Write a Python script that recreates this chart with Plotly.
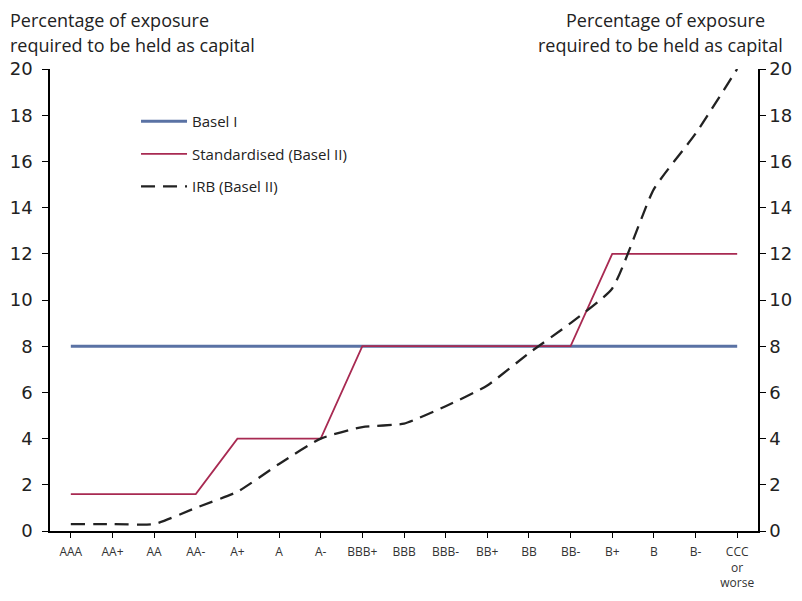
import plotly.graph_objects as go

categories = ["AAA", "AA+", "AA", "AA-", "A+", "A", "A-", "BBB+", "BBB", "BBB-",
              "BB+", "BB", "BB-", "B+", "B", "B-", "CCC<br>or<br>worse"]
basel1 = [8] * 17
standardised = [1.6, 1.6, 1.6, 1.6, 4, 4, 4, 8, 8, 8, 8, 8, 8, 12, 12, 12, 12]
irb = [0.3, 0.3, 0.3, 1.0, 1.7, 2.9, 4.0, 4.5, 4.65, 5.4, 6.3, 7.7, 9.0, 10.5, 14.8, 17.2, 20.0]
y_ticks = [0, 2, 4, 6, 8, 10, 12, 14, 16, 18, 20]
title_line1 = "Percentage of exposure"
title_line2 = "required to be held as capital"

x = list(range(len(categories)))
font_family = "Open Sans, DejaVu Sans, sans-serif"
num_font = "DejaVu Sans, sans-serif"

fig = go.Figure()
fig.add_trace(go.Scatter(x=x, y=basel1, mode="lines", name="Basel I",
                         line=dict(color="#5a72a4", width=3), legendgroup="a"))
fig.add_trace(go.Scatter(x=x, y=standardised, mode="lines", name="Standardised (Basel II)",
                         line=dict(color="#a82a52", width=1.8), legendgroup="b"))
fig.add_trace(go.Scatter(x=x, y=irb, mode="lines", name="IRB (Basel II)",
                         line=dict(color="#222222", width=2.3, dash="14px,8px",
                                   shape="spline", smoothing=0.5), legendgroup="c"))
fig.add_trace(go.Scatter(x=x, y=irb, mode="lines", yaxis="y2", showlegend=False,
                         hoverinfo="skip", line=dict(color="rgba(0,0,0,0)", width=0)))

fig.update_layout(
    width=786, height=585,
    margin=dict(l=42, r=36, t=61, b=62, autoexpand=False),
    paper_bgcolor="white", plot_bgcolor="white",
    font=dict(family=font_family, color="#222222"),
    xaxis=dict(
        tickmode="array", tickvals=x, ticktext=categories, automargin=False,
        range=[-0.5, 16.5], tickson="boundaries", ticks="outside", ticklen=5,
        tickcolor="#000", showline=True, linecolor="#000", linewidth=1.5,
        showgrid=False, zeroline=False, tickangle=0, ticklabelstandoff=4,
        tickfont=dict(size=12, color="#333333"),
    ),
    yaxis=dict(
        range=[0, 20], tickvals=y_ticks, ticks="outside", ticklen=6, automargin=False,
        tickcolor="#000", showline=True, linecolor="#000", linewidth=1.5,
        showgrid=False, zeroline=False, ticklabelstandoff=6,
        tickfont=dict(size=18, color="#222222", family=num_font),
    ),
    yaxis2=dict(
        range=[0, 20], tickvals=y_ticks, ticks="outside", ticklen=6, automargin=False,
        tickcolor="#000", showline=True, linecolor="#000", linewidth=1.5,
        overlaying="y", side="right", showgrid=False, zeroline=False,
        tickfont=dict(size=18, color="#222222", family=num_font),
    ),
    legend=dict(x=0.1215, y=0.922, xanchor="left", yanchor="top",
                font=dict(size=15, color="#222222"), bgcolor="rgba(0,0,0,0)",
                tracegroupgap=10, itemwidth=46),
    showlegend=True,
)

ann_font = dict(size=18, color="#222222")
fig.add_annotation(text=title_line1, xref="paper", yref="paper", x=0, y=1,
                   xshift=-42, yshift=49, xanchor="left", yanchor="middle",
                   showarrow=False, font=ann_font)
fig.add_annotation(text=title_line2, xref="paper", yref="paper", x=0, y=1,
                   xshift=-42, yshift=24, xanchor="left", yanchor="middle",
                   showarrow=False, font=ann_font)
fig.add_annotation(text=title_line1, xref="paper", yref="paper", x=1, y=1,
                   xshift=9, yshift=49, xanchor="right", yanchor="middle",
                   showarrow=False, font=ann_font)
fig.add_annotation(text=title_line2, xref="paper", yref="paper", x=1, y=1,
                   xshift=27, yshift=24, xanchor="right", yanchor="middle",
                   showarrow=False, font=ann_font)

fig.write_html("out.html")
